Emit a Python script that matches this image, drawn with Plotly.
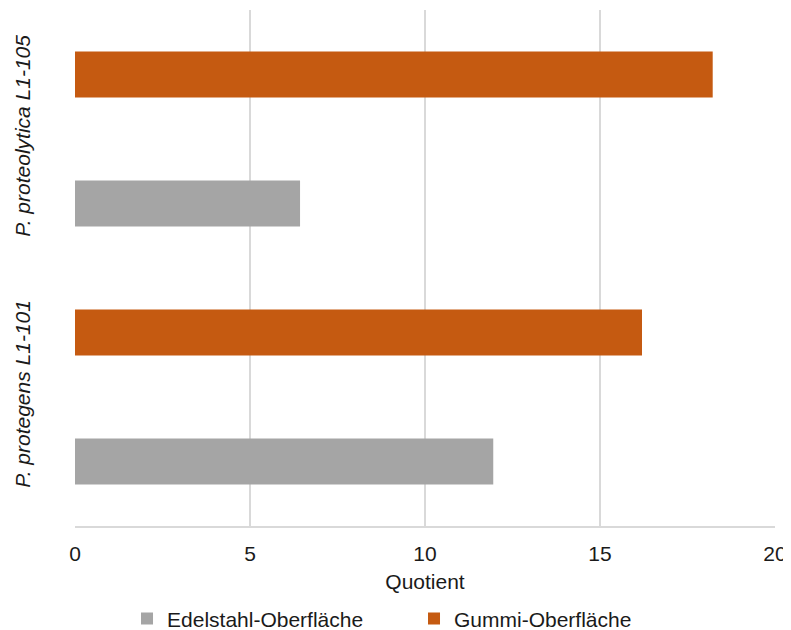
import plotly.graph_objects as go

categories = ["P. protegens L1-101", "P. proteolytica L1-105"]
edelstahl = [11.95, 6.43]
gummi = [16.2, 18.22]
series_names = ["Edelstahl-Oberfläche", "Gummi-Oberfläche"]
x_ticks = [0, 5, 10, 15, 20]

FONT = "Liberation Sans, Arial, sans-serif"
TXT = "#1a1a1a"
FS = 21

fig = go.Figure()
fig.add_trace(go.Bar(y=categories, x=edelstahl, orientation="h", name=series_names[0],
                     marker=dict(color="#A5A5A5", line=dict(width=0))))
fig.add_trace(go.Bar(y=categories, x=gummi, orientation="h", name=series_names[1],
                     marker=dict(color="#C55A11", line=dict(width=0))))

# the page body adds an 8px offset, so the figure is sized to fit the 791x630 window
fig.update_layout(
    width=783, height=622,
    margin=dict(l=67, r=16, t=2, b=104, autoexpand=False),
    paper_bgcolor="white", plot_bgcolor="white",
    barmode="group", bargap=0, bargroupgap=0.643,
    font=dict(family=FONT, size=FS, color=TXT),
    showlegend=True,
    legend=dict(orientation="h", x=0.0743, xanchor="left", y=-0.18, yanchor="middle",
                entrywidth=242, entrywidthmode="pixels",
                font=dict(size=FS, color=TXT), itemclick=False),
    xaxis=dict(range=[0, 20], tickvals=x_ticks, ticktext=[str(v) for v in x_ticks],
               showgrid=True, gridcolor="#d9d9d9", gridwidth=1.5,
               zeroline=False, showline=True, linecolor="#d9d9d9", linewidth=1.5,
               ticks="", ticklabelstandoff=8, automargin=False,
               title=dict(text="Quotient", font=dict(size=FS, color=TXT), standoff=10)),
    yaxis=dict(type="category", tickvals=categories,
               ticktext=["<i>" + c + "</i>" for c in categories],
               tickangle=-90, showgrid=False, zeroline=False, showline=False,
               ticks="", ticklabelstandoff=40, range=[-0.5, 1.5], automargin=False),
)

fig.write_html("out.html")
